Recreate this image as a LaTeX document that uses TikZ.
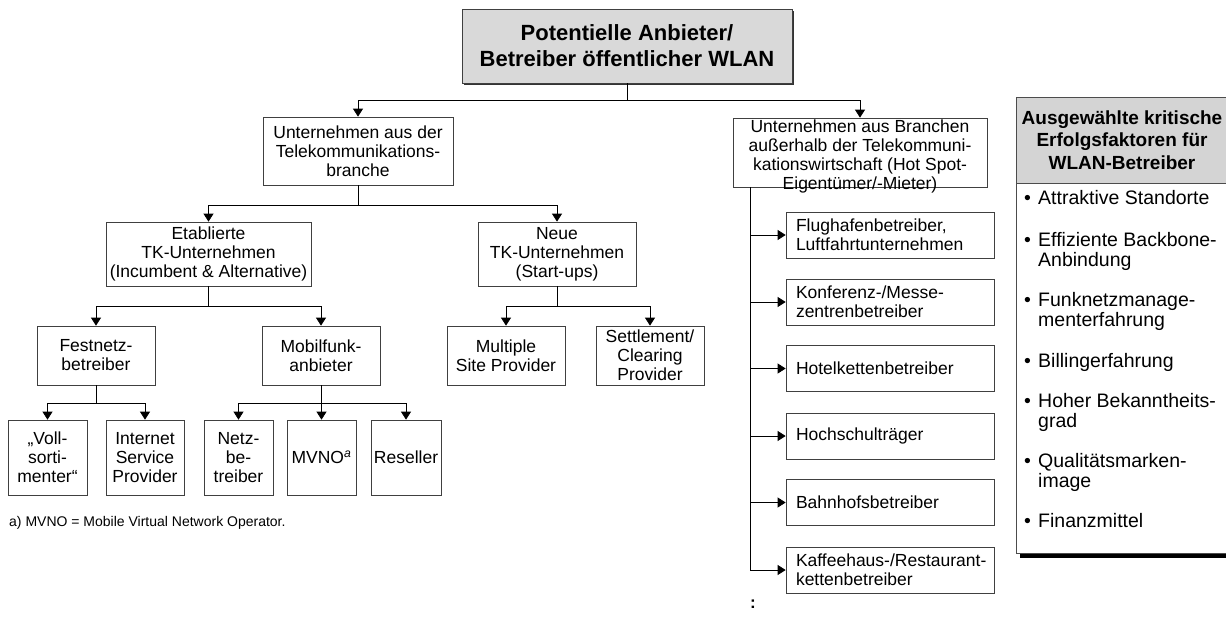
\documentclass[tikz,border=0pt]{standalone}
\usepackage{fontspec}
\setmainfont{Liberation Sans}
\usetikzlibrary{positioning,shapes,arrows.meta,shadows}
\tikzset{box/.style={draw=black!75,line width=0.7pt,align=center,inner sep=1pt,font=\fontsize{17.5pt}{19pt}\selectfont},
  titel/.style={box,fill=black!15,font=\bfseries\fontsize{22pt}{26pt}\selectfont,drop shadow={shadow xshift=1.5pt,shadow yshift=-1.5pt,fill=black!80,opacity=1}},
  ziel/.style={box,align=left,text width=188pt,inner xsep=10pt,minimum width=208pt,minimum height=46pt},
  conn/.style={line width=0.7pt,-{Triangle[length=8pt,width=10pt]}},
  crit/.style={font=\fontsize{19.5pt}{20.5pt}\selectfont,inner sep=0pt}}
\newcommand{\kfpunkt}[1]{\makebox[14pt][l]{\textbullet}\begin{tabular}[t]{@{}l@{}}#1\end{tabular}}

\begin{document}
\begin{tikzpicture}[x=1pt,y=-1pt]
\useasboundingbox (0,0) rectangle (1226,616);

\node[titel,minimum width=330pt,minimum height=74pt] (anbieter) at (627,46) {Potentielle Anbieter/\\Betreiber öffentlicher WLAN};

\node[box,minimum width=190pt,minimum height=68pt] (tkbranche) at (358,151) {Unternehmen aus der\\Telekommunikations-\\branche};
\node[box,inner sep=0pt,minimum width=254pt,minimum height=69pt] (fremd) at (860,152.5) {\parbox[c][65pt][t]{252pt}{\centering Unternehmen aus Branchen\\außerhalb der Telekommuni-\\kationswirtschaft (Hot Spot-\\Eigentümer/-Mieter)}};

\node[box,minimum width=205pt,minimum height=64pt] (etabliert) at (208.5,254) {Etablierte\\TK-Unternehmen\\(Incumbent \& Alternative)};
\node[box,minimum width=158pt,minimum height=64pt] (neu) at (557,254) {Neue\\TK-Unternehmen\\(Start-ups)};

\node[box,minimum width=118pt,minimum height=59pt] (festnetz) at (96,355.5) {Festnetz-\\betreiber};
\node[box,minimum width=118pt,minimum height=59pt] (mobil) at (321,355.5) {Mobilfunk-\\anbieter};
\node[box,minimum width=118pt,minimum height=59pt] (multi) at (506,355.5) {Multiple\\Site Provider};
\node[box,minimum width=108pt,minimum height=59pt] (clearing) at (650,355.5) {Settlement/\\Clearing\\Provider};

\node[box,minimum width=79pt,minimum height=75pt] (voll) at (47.5,457.5) {„Voll-\\sorti-\\menter“};
\node[box,minimum width=78pt,minimum height=75pt] (isp) at (145,457.5) {Internet\\Service\\Provider};
\node[box,minimum width=69pt,minimum height=75pt] (netz) at (238.5,457.5) {Netz-\\be-\\treiber};
\node[box,minimum width=69pt,minimum height=75pt] (mvno) at (321.5,457.5) {MVNO\textsuperscript{\itshape a}};
\node[box,minimum width=70pt,minimum height=75pt] (reseller) at (406,457.5) {Reseller};

\node[anchor=west,inner sep=0pt,font=\fontsize{14pt}{16pt}\selectfont] (fussnote) at (9,523) {a) MVNO = Mobile Virtual Network Operator.};

\node[ziel] (flughafen) at (890,235) {Flughafenbetreiber,\\Luftfahrtunternehmen};
\node[ziel] (messe) at (890,302) {Konferenz-/Messe-\\zentrenbetreiber};
\node[ziel] (hotel) at (890,368.5) {Hotelkettenbetreiber};
\node[ziel] (hochschule) at (890,436) {Hochschulträger};
\node[ziel] (bahnhof) at (890,502.5) {Bahnhofsbetreiber};
\node[ziel] (kaffee) at (890,570) {\mbox{Kaffeehaus-/Restaurant-}\\kettenbetreiber};
\node[font=\bfseries\fontsize{17pt}{19pt}\selectfont,inner sep=0pt] (weitere) at (753,604) {:};

\draw[conn] (anbieter.south) -- ++(0,17) -| (tkbranche.north);
\draw[conn] (anbieter.south) -- ++(0,17) -| (fremd.north);
\draw[conn] (tkbranche.south) -- ++(0,20) -| (etabliert.north);
\draw[conn] (tkbranche.south) -- ++(0,20) -| (neu.north);
\draw[conn] (etabliert.south) -- ++(0,20) -| (festnetz.north);
\draw[conn] (etabliert.south) -- ++(0,20) -| (mobil.north);
\draw[conn] (neu.south) -- ++(0,20) -| (multi.north);
\draw[conn] (neu.south) -- ++(0,20) -| (clearing.north);
\draw[conn] (festnetz.south) -- ++(0,18) -| (voll.north);
\draw[conn] (festnetz.south) -- ++(0,18) -| (isp.north);
\draw[conn] (mobil.south) -- ++(0,18) -| (netz.north);
\draw[conn] (mobil.south) -- ++(0,18) -| (mvno.north);
\draw[conn] (mobil.south) -- ++(0,18) -| (reseller.north);
\foreach \z in {flughafen,messe,hotel,hochschule,bahnhof,kaffee}
  \draw[conn] ([xshift=18pt]fremd.south west) |- (\z.west);

\node[draw=black!70,line width=0.8pt,fill=white,minimum width=212pt,minimum height=456pt,drop shadow={shadow xshift=4pt,shadow yshift=-5pt,fill=black,opacity=1}] (faktoren) at (1122,325) {};
\node[draw=black!70,line width=0.8pt,fill=black!17,minimum width=212pt,minimum height=86pt,align=center,font=\bfseries\fontsize{19pt}{22.5pt}\selectfont] (kopf) at (1122,140) {Ausgewählte kritische\\Erfolgsfaktoren für\\WLAN-Betreiber};
\node[crit,anchor=base west] (kf1) at (1024,204) {\kfpunkt{Attraktive Standorte}};
\node[crit,anchor=base west] (kf2) at (1024,246) {\kfpunkt{Effiziente Backbone-\\Anbindung}};
\node[crit,anchor=base west] (kf3) at (1024,306) {\kfpunkt{Funknetzmanage-\\menterfahrung}};
\node[crit,anchor=base west] (kf4) at (1024,367) {\kfpunkt{Billingerfahrung}};
\node[crit,anchor=base west] (kf5) at (1024,407) {\kfpunkt{Hoher Bekanntheits-\\grad}};
\node[crit,anchor=base west] (kf6) at (1024,467) {\kfpunkt{Qualitätsmarken-\\image}};
\node[crit,anchor=base west] (kf7) at (1024,527) {\kfpunkt{Finanzmittel}};
\end{tikzpicture}
\end{document}
